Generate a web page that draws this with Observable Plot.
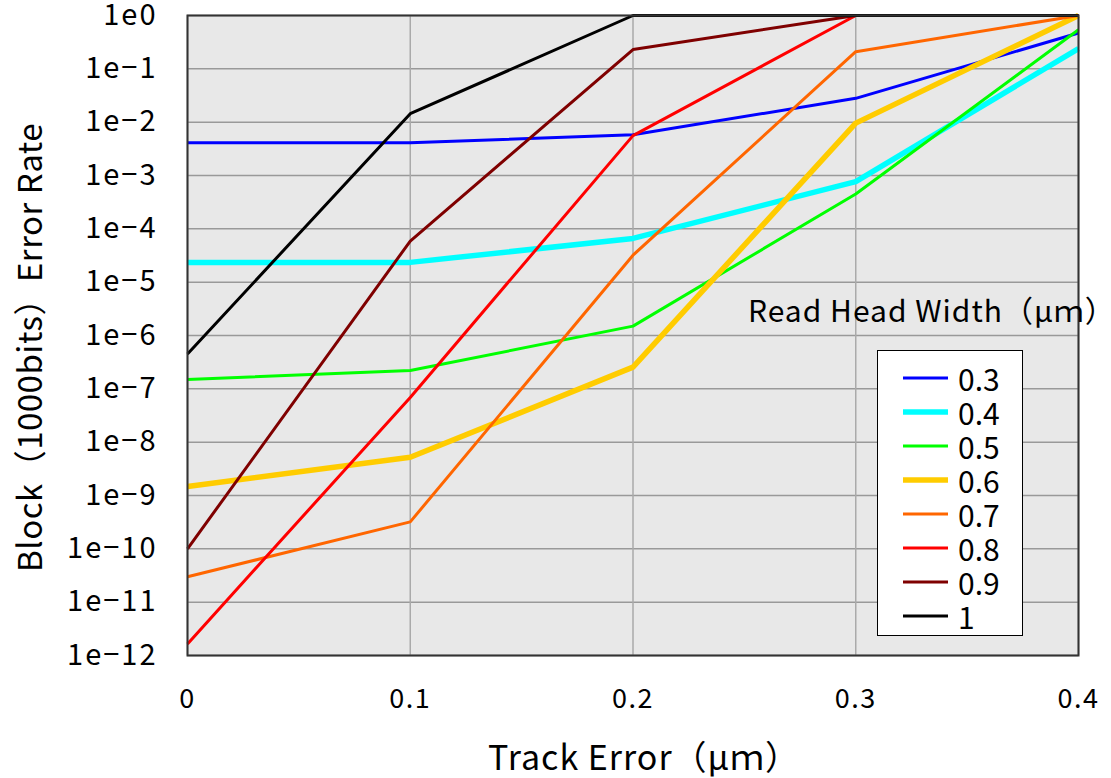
<!DOCTYPE html>
<html>
<head>
<meta charset="utf-8">
<script src="https://cdn.jsdelivr.net/npm/d3@7"></script>
<script src="https://cdn.jsdelivr.net/npm/@observablehq/plot@0.6"></script>
<style>
  body { margin: 0; background: #fff; }
  #wrap { position: relative; width: 1111px; height: 778px; font-family: "Noto Sans CJK JP", "Noto Sans", sans-serif; }
  #wrap svg g[aria-label="y-axis tick label"] text { letter-spacing: 2px; }
  #wrap svg g[aria-label="x-axis tick label"] text { letter-spacing: 1.5px; }
  #wrap svg g.xtitle text { letter-spacing: 1px; }
  #wrap svg g.ytitle text { letter-spacing: 0.5px; }
  #legend { position: absolute; left: 877px; top: 350px; width: 144px; height: 284px; background: #fff; border: 1px solid #000; }
  .row { position: absolute; left: 0; height: 34px; display: flex; align-items: center; }
  .sw { width: 45px; margin-left: 25px; margin-right: 10px; }
  .lab { font-size: 30px; color: #000; line-height: 34px; }
  #rhw { position: absolute; left: 748px; top: 287px; font-size: 30px; letter-spacing: 1px; color: #000; white-space: nowrap; line-height: 44px; }
</style>
</head>
<body>
<div id="wrap"></div>
<script>
const trackError = [0, 0.1, 0.2, 0.3, 0.4];
const headWidths = ["0.3", "0.4", "0.5", "0.6", "0.7", "0.8", "0.9", "1"];
const colors = ["#0000ff", "#00ffff", "#00ff00", "#ffcc00", "#ff6600", "#ff0000", "#7f0000", "#000000"];
const widths = [3, 5.5, 3, 5.5, 3, 3, 3, 3];
const w03 = [4.1e-3, 4.1e-3, 5.8e-3, 2.8e-2, 0.47];
const w04 = [2.35e-5, 2.35e-5, 6.6e-5, 7.7e-4, 0.24];
const w05 = [1.5e-7, 2.2e-7, 1.5e-6, 4.5e-4, 0.54];
const w06 = [1.48e-9, 5.2e-9, 2.55e-7, 9.6e-3, 1];
const w07 = [3.0e-11, 3.2e-10, 3.2e-5, 0.21, 1];
const w08 = [1.65e-12, 6.9e-8, 5.6e-3, 1, 1];
const w09 = [1.0e-10, 5.9e-5, 0.23, 1, 1];
const w10 = [4.5e-7, 1.44e-2, 1, 1, 1];
const seriesValues = [w03, w04, w05, w06, w07, w08, w09, w10];
const yTicks = [1, 1e-1, 1e-2, 1e-3, 1e-4, 1e-5, 1e-6, 1e-7, 1e-8, 1e-9, 1e-10, 1e-11, 1e-12];
const xTicks = [0, 0.1, 0.2, 0.3, 0.4];
const xTickLabels = ["0", "0.1", "0.2", "0.3", "0.4"];
const xTitle = "Track Error（μｍ）";
const yTitle = "Block（1000bits）Error Rate";
const legendTitle = "Read Head Width（μｍ）";

const fmtY = d => "1e" + String(Math.round(Math.log10(d))).replace("-", "\u2212");

const lineMarks = seriesValues.map((vals, i) =>
  Plot.line(trackError.map((x, j) => ({x, y: vals[j]})), {
    x: "x", y: "y", stroke: colors[i], strokeWidth: widths[i], strokeLinejoin: "miter", strokeLinecap: "butt"
  })
);

const chart = Plot.plot({
  width: 1111,
  height: 778,
  marginLeft: 187,
  marginRight: 33,
  marginTop: 15,
  marginBottom: 123,
  style: { fontFamily: '"Noto Sans CJK JP", "Noto Sans", sans-serif', background: "transparent", color: "#000" },
  x: { domain: [0, 0.4] },
  y: { type: "log", domain: [1e-12, 1] },
  marks: [
    Plot.frame({ fill: "#e8e8e8" }),
    Plot.ruleY(yTicks, { stroke: "#999", strokeWidth: 1.5 }),
    Plot.ruleX(xTicks, { stroke: "#aaa", strokeWidth: 1.5 }),
    ...lineMarks,
    Plot.frame({ stroke: "#333", strokeWidth: 2 }),
    Plot.axisY(yTicks, { tickSize: 0, tickPadding: 30, tickFormat: fmtY, fontSize: 29, label: null }),
    Plot.axisX(xTicks, { tickSize: 0, tickPadding: 33, tickFormat: (d, i) => xTickLabels[i], fontSize: 27, label: null }),
    Plot.text([xTitle], { frameAnchor: "bottom", dx: 11, dy: 114, fontSize: 34, fill: "#000", className: "xtitle" }),
    Plot.text([yTitle], { frameAnchor: "left", textAnchor: "middle", dx: -156, dy: 12, rotate: -90, fontSize: 33, fill: "#000", className: "ytitle" })
  ]
});

const wrap = document.getElementById("wrap");
wrap.appendChild(chart);

const rhw = document.createElement("div");
rhw.id = "rhw";
rhw.textContent = legendTitle;
wrap.appendChild(rhw);

const legend = document.createElement("div");
legend.id = "legend";
headWidths.forEach((h, i) => {
  const row = document.createElement("div");
  row.className = "row";
  row.style.top = (10 + i * 34) + "px";
  row.innerHTML = `<svg class="sw" width="45" height="10"><line x1="0" x2="45" y1="5" y2="5" stroke="${colors[i]}" stroke-width="${widths[i]}"/></svg><span class="lab">${h}</span>`;
  legend.appendChild(row);
});
wrap.appendChild(legend);
</script>
</body>
</html>
